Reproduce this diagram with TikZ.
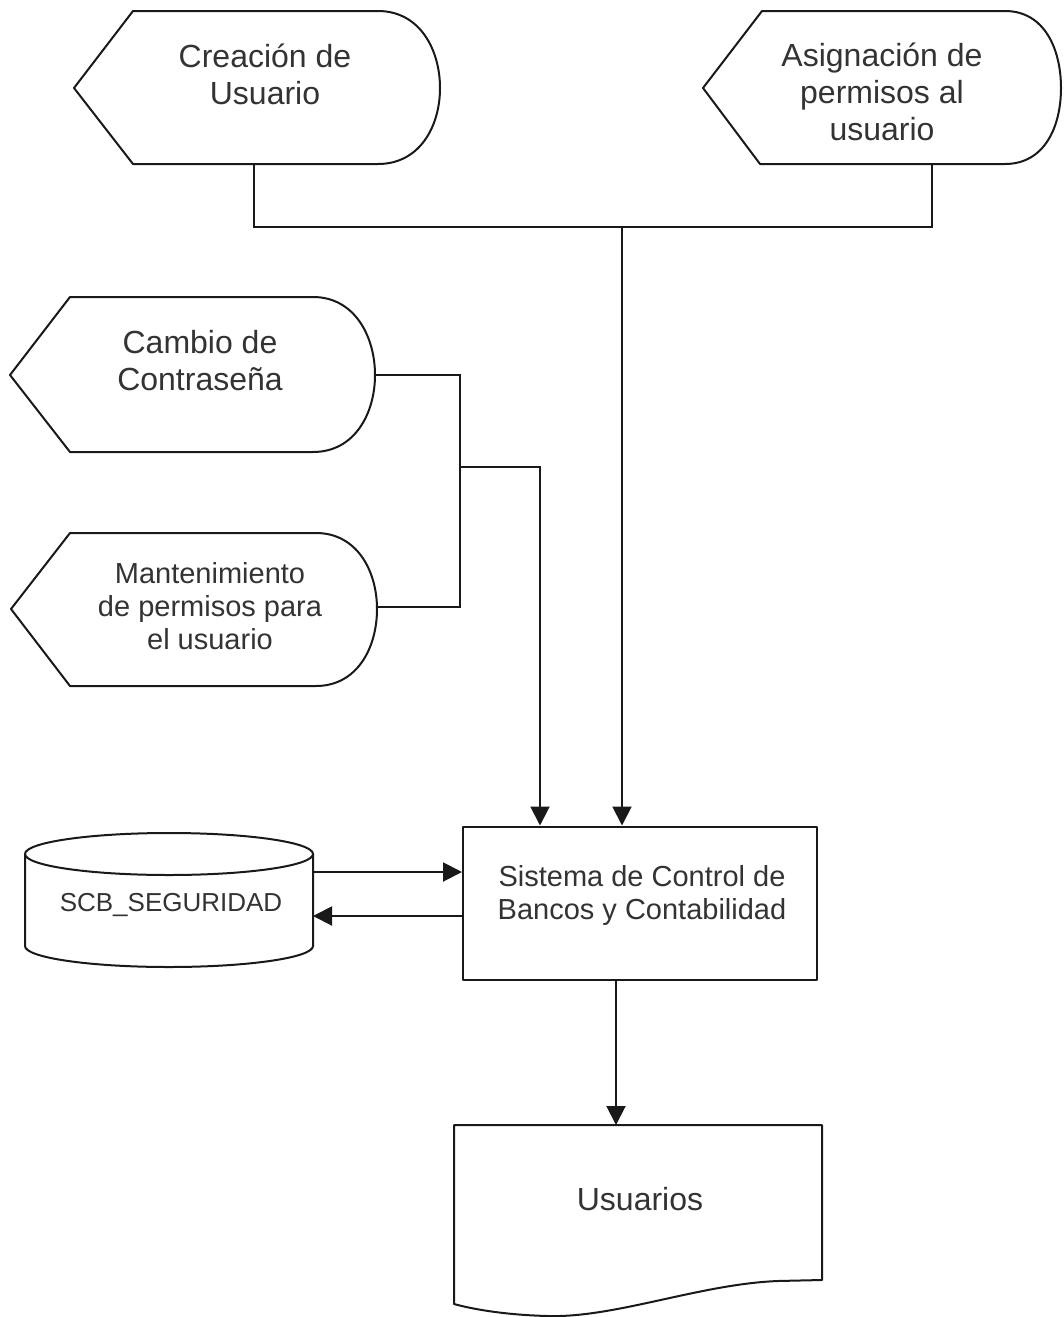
\documentclass[tikz,border=0pt]{standalone}
\usepackage{fontspec}
\setmainfont{Liberation Sans}
\usetikzlibrary{arrows.meta,calc}
\begin{document}
\begin{tikzpicture}[x=1pt,y=-1pt, line width=2pt,
  outline/.style={draw=black!90, line join=round},
  conn/.style={draw=black!90},
  arr/.style={conn,-{Triangle[length=19pt,width=19pt]}},
  lbl/.style={align=center, inner sep=0pt, text=black!80, font=\fontsize{32}{37}\selectfont},
  lbls/.style={lbl, font=\fontsize{29}{33}\selectfont},
  lblxs/.style={lbl, font=\fontsize{26}{30}\selectfont},
  procbox/.style={outline, draw, minimum width=354pt, minimum height=153pt, inner sep=0pt},
]
\useasboundingbox (0,0) rectangle (1063,1317);

% display shapes
\draw[outline] (74,88) -- (133,11) -- (378,11) .. controls (420,11) and (440,50) .. (440,88)
  .. controls (440,126) and (420,164) .. (378,164) -- (133,164) -- cycle;
\draw[outline] (703,88) -- (762,11) -- (1005,11) .. controls (1045,11) and (1061,50) .. (1061,88)
  .. controls (1061,126) and (1045,164) .. (1005,164) -- (760,164) -- cycle;
\draw[outline] (10,375) -- (70,297) -- (313,297) .. controls (355,297) and (375,337) .. (375,375)
  .. controls (375,413) and (355,452) .. (313,452) -- (70,452) -- cycle;
\draw[outline] (11,609) -- (70,533) -- (316,533) .. controls (357,533) and (377,571) .. (377,609)
  .. controls (377,648) and (357,686) .. (316,686) -- (70,686) -- cycle;

\node[lbl] (t1) at (265,74) {Creación de\\Usuario};
\node[lbl] (t2) at (882,92) {Asignación de\\permisos al\\usuario};
\node[lbl] (t3) at (200,361) {Cambio de\\Contraseña};
\node[lbls] (t4) at (210,606) {Mantenimiento\\de permisos para\\el usuario};

% database cylinder
\draw[outline] (169,854) ellipse [x radius=144, y radius=21];
\draw[outline] (25,854) -- (25,946) .. controls (25,957.6) and (89.5,967) .. (169,967)
  .. controls (248.5,967) and (313,957.6) .. (313,946) -- (313,854);
\node[lblxs] (db) at (171,905) {SCB\_SEGURIDAD};

% process box
\node[procbox] (sys) at (640,903) {};
\node[lbls] (syst) at (642,895) {Sistema de Control de\\Bancos y Contabilidad};

% document
\draw[outline] (454,1125) -- (822,1125) -- (822,1280) -- (778,1281)
  .. controls (700,1284) and (615,1318) .. (548,1316)
  .. controls (505,1315) and (472,1309) .. (454,1304) -- cycle;
\node[lbl] (doc) at (640,1199) {Usuarios};

% connection points
\coordinate (c1b) at (254,164);
\coordinate (c2b) at (932,164);
\coordinate (j1) at (622,227);
\coordinate (c3r) at (375,375);
\coordinate (c4r) at (377,607);
\coordinate (j2) at (460,467);
\coordinate (j3) at (540,467);
\coordinate (dbo) at (313,872);
\coordinate (dbi) at (313,916);
\coordinate (sysb) at (616,979);
\coordinate (doct) at (616,1125);

\draw[conn] (c1b) |- (j1) -| (c2b);
\draw[arr] (j1) -- (j1 |- sys.north);
\draw[conn] (c3r) -- (j2 |- c3r) -- (j2 |- c4r) -- (c4r);
\draw[arr] (j2) -- (j3) -- (j3 |- sys.north);
\draw[arr] (dbo) -- (dbo -| sys.west);
\draw[arr] (dbi -| sys.west) -- (dbi);
\draw[arr] (sysb) -- (doct);
\end{tikzpicture}
\end{document}
